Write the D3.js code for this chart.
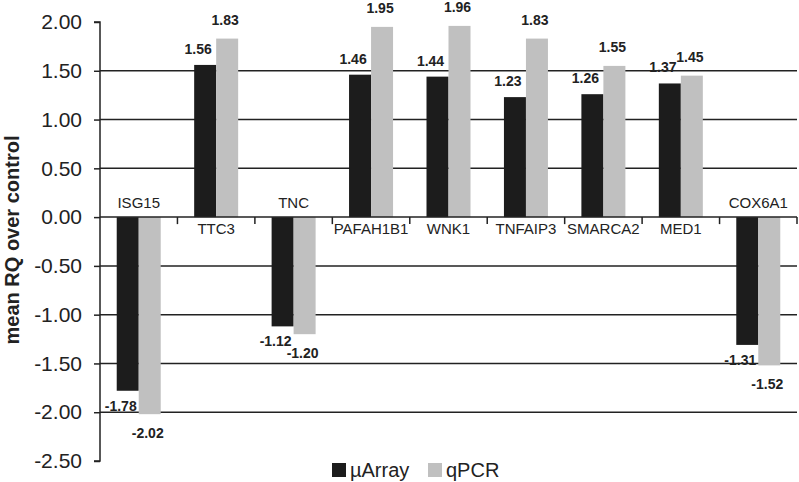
<!DOCTYPE html>
<html><head><meta charset="utf-8">
<script src="https://cdn.jsdelivr.net/npm/d3@7"></script>
<style>body{margin:0;background:#fff}svg{display:block}text{font-family:"Liberation Sans",Arial,sans-serif}</style>
</head><body><svg id="c" width="799" height="482"></svg>
<script>
const categories = ["ISG15","TTC3","TNC","PAFAH1B1","WNK1","TNFAIP3","SMARCA2","MED1","COX6A1"];
const seriesNames = ["µArray","qPCR"];
const microarray = [-1.78,1.56,-1.12,1.46,1.44,1.23,1.26,1.37,-1.31];
const qpcr = [-2.02,1.83,-1.20,1.95,1.96,1.83,1.55,1.45,-1.52];
const yTicks = [2.0,1.5,1.0,0.5,0.0,-0.5,-1.0,-1.5,-2.0,-2.5];
const colors = ["#1c1c1c","#c0c0c0"];

const fmt = v => d3.format(".2f")(v).replace("\u2212","-");
const svg = d3.select("#c");
const y = d3.scaleLinear().domain([-2.5,2]).range([461,22]);
const x = d3.scaleBand().domain(categories).range([100,797]);
const x1 = d3.scaleBand().domain(seriesNames).range([0,44]);

// gridlines
svg.append("g").selectAll("line").data(yTicks.filter(t=>t!==2 && t!==-2.5 && t!==0)).join("line")
  .attr("x1",100).attr("x2",797).attr("y1",d=>y(d)).attr("y2",d=>y(d))
  .attr("stroke","#222").attr("stroke-width",1.5);

// y axis
const yAxis = d3.axisLeft(y).tickValues(yTicks).tickFormat(fmt).tickSize(6).tickPadding(12);
const ga = svg.append("g").attr("transform","translate(100,0)").call(yAxis);
ga.select(".domain").attr("stroke","#222").attr("stroke-width",1.5).attr("d","M-6,22H0V461H-6");
ga.selectAll(".tick line").attr("stroke","#222").attr("stroke-width",1.5);
ga.selectAll(".tick text").attr("font-size",21).attr("fill","#222").style("font-family","Liberation Sans, Arial, sans-serif");

// axis title
svg.append("text").attr("transform","translate(19,240) rotate(-90)").attr("text-anchor","middle")
  .attr("font-size",20).attr("font-weight","bold").attr("fill","#222").text("mean RQ over control");

// bars
const data = categories.map((c,i)=>({c, vals:[microarray[i],qpcr[i]]}));
const groups = svg.append("g").selectAll("g").data(data).join("g")
  .attr("transform",d=>`translate(${x(d.c)+x.bandwidth()/2-22},0)`);
groups.selectAll("rect").data(d=>d.vals.map((v,j)=>({v,s:seriesNames[j],j}))).join("rect")
  .attr("x",d=>x1(d.s)).attr("width",x1.bandwidth())
  .attr("y",d=>y(Math.max(0,d.v))).attr("height",d=>Math.abs(y(d.v)-y(0)))
  .attr("fill",d=>colors[d.j]);
groups.selectAll("text.val").data(d=>d.vals.map((v,j)=>({v,s:seriesNames[j],j}))).join("text")
  .attr("class","val")
  .attr("x",d=>x1(d.s)+x1.bandwidth()/2-(d.j===0?7:2))
  .attr("y",d=>d.v>=0 ? y(d.v)-(d.j===0?11:13.5) : y(d.v)+(d.j===0?20:24))
  .attr("text-anchor","middle").attr("font-size",14).attr("font-weight","bold").attr("fill","#222")
  .text(d=>fmt(d.v));

// zero axis
svg.append("line").attr("x1",100).attr("x2",797).attr("y1",y(0)).attr("y2",y(0)).attr("stroke","#222").attr("stroke-width",1.5);
const bounds = categories.map(c=>x(c)).concat([x.range()[1]]).slice(1);
svg.append("g").selectAll("line").data(bounds).join("line")
  .attr("x1",d=>d).attr("x2",d=>d).attr("y1",y(0)).attr("y2",y(0)+7).attr("stroke","#222").attr("stroke-width",1.5);

// category labels
svg.append("g").selectAll("text").data(data).join("text")
  .attr("x",d=>x(d.c)+x.bandwidth()/2).attr("y",d=>d.vals[0]<0 ? y(0)-9 : y(0)+17)
  .attr("text-anchor","middle").attr("font-size",15).attr("fill","#222").text(d=>d.c);

// legend
const leg = svg.append("g");
const legX = [332,428];
seriesNames.forEach((s,j)=>{
  leg.append("rect").attr("x",legX[j]).attr("y",463).attr("width",14).attr("height",14).attr("fill",colors[j]);
  leg.append("text").attr("x",legX[j]+18).attr("y",477).attr("font-size",20).attr("fill","#222").text(s);
});
</script></body></html>
